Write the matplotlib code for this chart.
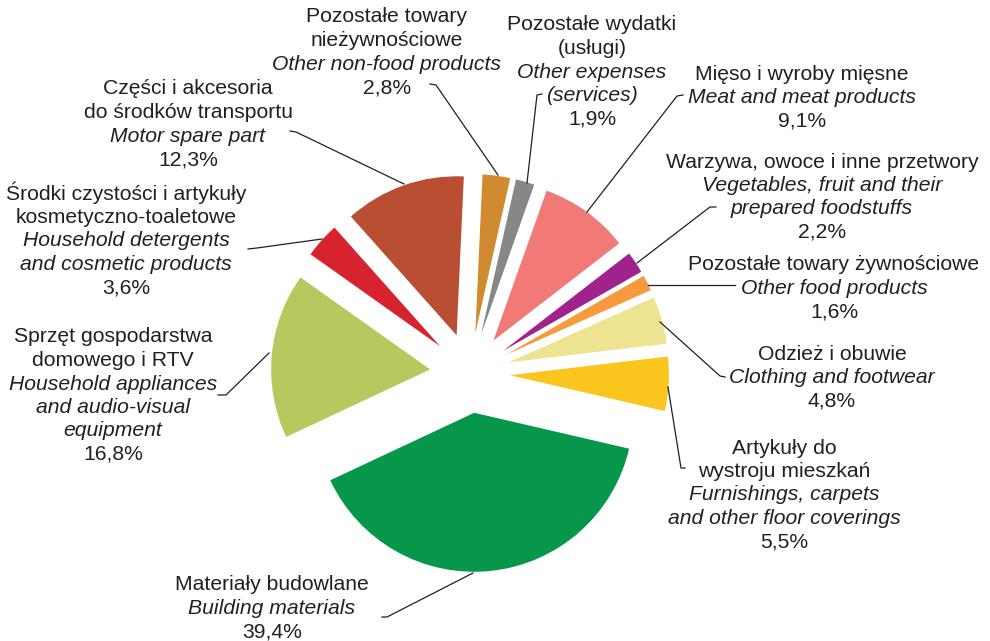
import matplotlib
matplotlib.use("Agg")
import matplotlib.pyplot as plt

plt.rcParams['font.family'] = ['Liberation Sans', 'DejaVu Sans']

# ---- data (clockwise from 12 o'clock) ----
categories = [
    "Pozostałe towary nieżywnościowe",
    "Pozostałe wydatki (usługi)",
    "Mięso i wyroby mięsne",
    "Warzywa, owoce i inne przetwory",
    "Pozostałe towary żywnościowe",
    "Odzież i obuwie",
    "Artykuły do wystroju mieszkań",
    "Materiały budowlane",
    "Sprzęt gospodarstwa domowego i RTV",
    "Środki czystości i artykuły kosmetyczno-toaletowe",
    "Części i akcesoria do środków transportu",
]
values = [2.8, 1.9, 9.1, 2.2, 1.6, 4.8, 5.5, 39.4, 16.8, 3.6, 12.3]
polish_lines = [
    ["Pozostałe towary", "nieżywnościowe"],
    ["Pozostałe wydatki", "(usługi)"],
    ["Mięso i wyroby mięsne"],
    ["Warzywa, owoce i inne przetwory"],
    ["Pozostałe towary żywnościowe"],
    ["Odzież i obuwie"],
    ["Artykuły do", "wystroju mieszkań"],
    ["Materiały budowlane"],
    ["Sprzęt gospodarstwa", "domowego i RTV"],
    ["Środki czystości i artykuły", "kosmetyczno-toaletowe"],
    ["Części i akcesoria", "do środków transportu"],
]
english_lines = [
    ["Other non-food products"],
    ["Other expenses", "(services)"],
    ["Meat and meat products"],
    ["Vegetables, fruit and their", "prepared foodstuffs"],
    ["Other food products"],
    ["Clothing and footwear"],
    ["Furnishings, carpets", "and other floor coverings"],
    ["Building materials"],
    ["Household appliances", "and audio-visual", "equipment"],
    ["Household detergents", "and cosmetic products"],
    ["Motor spare part"],
]
colors = ["#D08A2F", "#868786", "#F27A76", "#A0228D", "#F69A3B",
          "#EDE391", "#FAC61E", "#07974B", "#B8C75E", "#D6232E", "#B94E32"]

# ---- layout (pixels) ----
W, H = 990, 641
CX, CY, R = 470, 373, 159
EXPL = 40 / R
START = 87.4

label_pos = [  # center x, first-line center y
    (387, 15), (592, 23), (802, 72), (822, 160), (834, 263), (832, 352),
    (784, 446), (272, 583), (113, 335), (126, 192), (188, 87),
]
LINE_STEP = 23.5
leaders = [
    [(430, 84), (436, 85), (498, 175)],
    [(542, 94), (537, 95), (527, 183)],
    [(683, 95), (677, 96), (587, 212)],
    [(716, 207), (710, 207), (637, 263)],
    [(735, 285), (648, 285)],
    [(725, 377), (720, 376), (660, 322)],
    [(685, 468), (681, 468), (668, 387)],
    [(382, 617), (387, 617), (473, 573)],
    [(218, 395), (226, 395), (269, 353)],
    [(248, 249), (257, 248), (322, 239)],
    [(290, 131), (296, 132), (404, 184)],
]

fig = plt.figure(figsize=(W / 100, H / 100), dpi=100)
fig.patch.set_facecolor("white")

ax = fig.add_axes([0, 0, 1, 1])
ax.pie(values, colors=colors, startangle=START, counterclock=False,
       explode=[EXPL] * len(values), radius=1.0, center=(0, 0),
       wedgeprops=dict(linewidth=0))
ax.set_xlim((0 - CX) / R, (W - CX) / R)
ax.set_ylim((CY - H) / R, CY / R)
ax.set_aspect("auto")
ax.axis("off")

ov = fig.add_axes([0, 0, 1, 1])
ov.set_xlim(0, W)
ov.set_ylim(H, 0)
ov.axis("off")
ov.patch.set_alpha(0)

TXT = "#231F20"
FS = 15.2
for i in range(len(values)):
    x, y = label_pos[i]
    lines = [(t, "normal") for t in polish_lines[i]] + \
            [(t, "italic") for t in english_lines[i]] + \
            [(f"{values[i]:.1f}".replace(".", ",") + "%", "normal")]
    for k, (t, st) in enumerate(lines):
        ov.text(x, y + k * LINE_STEP + 7.5, t, ha="center", va="baseline",
                fontsize=FS, style=st, color=TXT)
    xs = [p[0] for p in leaders[i]]
    ys = [p[1] for p in leaders[i]]
    ov.plot(xs, ys, color="#231F20", linewidth=0.9)

fig.savefig("out.png", dpi=100, facecolor="white")
